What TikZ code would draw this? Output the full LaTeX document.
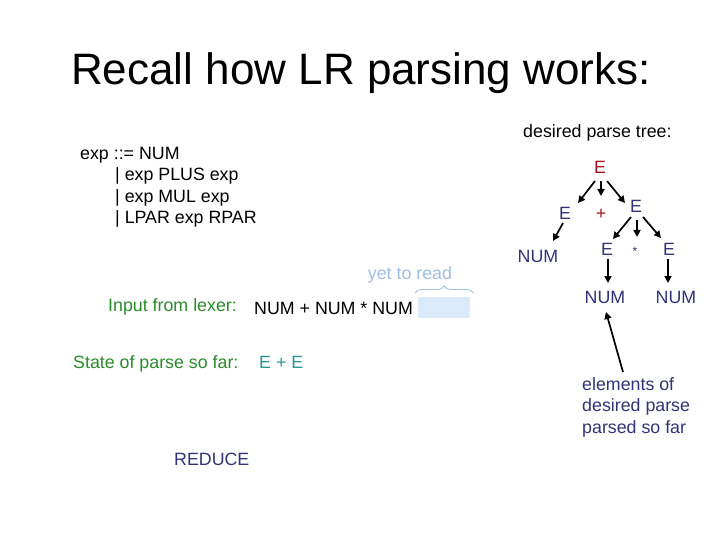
\documentclass[tikz,border=0pt]{standalone}
\usepackage{fontspec}
\setmainfont{Liberation Sans}
\usetikzlibrary{arrows.meta,decorations.pathreplacing}
\definecolor{navy}{RGB}{50,50,120}
\definecolor{darkred}{RGB}{165,20,30}
\definecolor{grn}{RGB}{40,140,40}
\definecolor{teal2}{RGB}{40,150,150}
\definecolor{ltblue}{RGB}{160,190,225}
\definecolor{boxblue}{RGB}{218,234,250}
\begin{document}
\begin{tikzpicture}[x=1pt,y=-1pt,
  txt/.style={inner sep=0pt,anchor=base west,font=\fontsize{17.8}{21}\selectfont},
  tn/.style={inner sep=1pt,anchor=base,font=\fontsize{17.8}{21}\selectfont,text=navy},
  arr/.style={line width=1.7pt,-{Triangle[length=7pt,width=7pt]}}]
\useasboundingbox (0,0) rectangle (720,540);
% title
\node[anchor=base,inner sep=0pt,font=\fontsize{44}{50}\selectfont] (title) at (361,85) {Recall how LR parsing works:};
% grammar
\node[txt] (g1) at (80,159.5) {exp ::= NUM};
\node[txt] (g2) at (115,181) {| exp PLUS exp};
\node[txt] (g3) at (115,202.5) {| exp MUL exp};
\node[txt] (g4) at (115,224) {| LPAR exp RPAR};
% tree
\node[txt] (dpt) at (523,138) {desired parse tree:};
\node[tn,text=darkred] (root) at (600,174) {E};
\node[tn] (eL) at (565,219) {E};
\node[tn,text=darkred] (plus) at (601,219) {+};
\node[tn] (eR) at (636,213) {E};
\node[tn] (num1) at (538,262) {NUM};
\node[tn] (eA) at (607,255) {E};
\node[tn,font=\fontsize{12}{14}\selectfont] (star) at (635,255) {*};
\node[tn] (eB) at (669,255) {E};
\node[tn] (numA) at (605,303) {NUM};
\node[tn] (numB) at (676,303) {NUM};
\draw[arr] ([shift={(-5,7)}]root.base) -- ([shift={(13,-16)}]eL.base);
\draw[arr] ([shift={(1,7)}]root.base) -- ([shift={(0,-23)}]plus.base);
\draw[arr] ([shift={(7,7)}]root.base) -- ([shift={(-11,-10)}]eR.base);
\draw[arr] ([shift={(-2,4)}]eL.base) -- ([shift={(15,-21)}]num1.base);
\draw[arr] ([shift={(-5,4)}]eR.base) -- ([shift={(6,-16)}]eA.base);
\draw[arr] ([shift={(1,7)}]eR.base) -- ([shift={(2,-18)}]star.base);
\draw[arr] ([shift={(7,4)}]eR.base) -- ([shift={(-8,-17)}]eB.base);
\draw[arr] ([shift={(1,4)}]eA.base) -- ([shift={(3,-20)}]numA.base);
\draw[arr] ([shift={(-1,4)}]eB.base) -- ([shift={(-8,-20)}]numB.base);
% annotation
\node[txt,text=navy] (el1) at (582,390) {elements of};
\node[txt,text=navy] (el2) at (582,411) {desired parse};
\node[txt,text=navy] (el3) at (582,433) {parsed so far};
\coordinate (tail) at (623,372);
\draw[arr] (tail) -- ([shift={(1,9)}]numA.base);
% input
\node[anchor=base,inner sep=0pt,font=\fontsize{17.8}{21}\selectfont,text=ltblue] (ytr) at (410,279) {yet to read};
\node[txt,text=grn] (inl) at (108,311) {Input from lexer:};
\node[txt] (inp) at (254,314) {NUM + NUM * NUM};
\node[fill=boxblue,inner sep=0pt,minimum width=52pt,minimum height=21pt,anchor=north west] (box) at (418,297) {};
\draw[ltblue,line width=0.8pt,decorate,decoration={brace,amplitude=7pt}] ([shift={(-3,-4)}]box.north west) -- ([shift={(3,-4)}]box.north east);
% state
\node[txt,text=grn] (st) at (73,368) {State of parse so far:};
\node[txt,text=teal2] (ee) at (259,368) {E + E};
\node[txt,text=navy] (red) at (174,465) {REDUCE};
\end{tikzpicture}
\end{document}
